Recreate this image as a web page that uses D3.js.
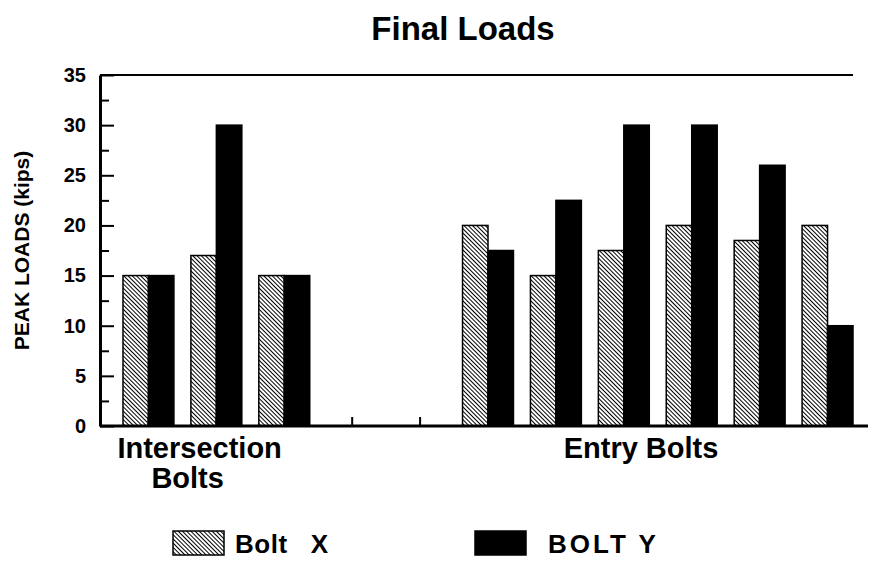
<!DOCTYPE html>
<html>
<head>
<meta charset="utf-8">
<script src="https://cdn.jsdelivr.net/npm/d3@7"></script>
<style>
  body { margin: 0; background: #fff; }
  svg { display: block; font-family: "Liberation Sans", Arial, sans-serif; font-weight: bold; }
</style>
</head>
<body>
<svg width="870" height="562"></svg>
<script>
// slots along the x axis (two empty slots separate the groups)
const slots = ["I1", "I2", "I3", "gapA", "gapB", "E1", "E2", "E3", "E4", "E5", "E6"];
const boltX = [15, 17, 15, null, null, 20, 15, 17.5, 20, 18.5, 20];
const boltY = [15, 30, 15, null, null, 17.5, 22.5, 30, 30, 26, 10];
const groupNames = [["Intersection", "Bolts"], ["Entry Bolts"]];
const groupFirst = ["I1", "E1"];
const groupLast = ["I3", "E6"];
const seriesNames = ["Bolt\u00a0\u00a0\u00a0X", "BOLT Y"];
const yMajor = [0, 5, 10, 15, 20, 25, 30, 35];
const yMinor = [2.5, 7.5, 12.5, 17.5, 22.5, 27.5, 32.5];

const svg = d3.select("svg");
const margin = { top: 75, left: 100 };
const plotBottom = 426;

const data = slots.map((s, i) => ({ slot: s, x: boltX[i], y: boltY[i] }));

const xScale = d3.scaleBand()
  .domain(slots)
  .range([114.5, 861.5])
  .paddingInner(0.25)
  .paddingOuter(0.125);

const inner = d3.scaleBand().domain(["x", "y"]).range([0, xScale.bandwidth()]);

const yScale = d3.scaleLinear().domain([0, 35]).range([plotBottom, margin.top]);

// hatch pattern for Bolt X
const defs = svg.append("defs");
defs.append("pattern")
  .attr("id", "hatch")
  .attr("patternUnits", "userSpaceOnUse")
  .attr("width", 3)
  .attr("height", 3)
  .attr("patternTransform", "rotate(-45)")
  .call((p) => {
    p.append("rect").attr("width", 3).attr("height", 3).attr("fill", "#fff");
    p.append("line").attr("x1", 0.5).attr("y1", 0).attr("x2", 0.5).attr("y2", 3)
      .attr("stroke", "#000").attr("stroke-width", 1);
  });

svg.append("text")
  .attr("x", 463)
  .attr("y", 40)
  .attr("text-anchor", "middle")
  .attr("font-size", 33)
  .text("Final Loads");

// bars
const g = svg.append("g");
const groups = g.selectAll("g.slot")
  .data(data.filter((d) => d.x != null))
  .enter()
  .append("g")
  .attr("transform", (d) => `translate(${xScale(d.slot)},0)`);

groups.append("rect")
  .attr("x", inner("x"))
  .attr("y", (d) => yScale(d.x))
  .attr("width", inner.bandwidth())
  .attr("height", (d) => plotBottom - yScale(d.x))
  .attr("fill", "url(#hatch)")
  .attr("stroke", "#000")
  .attr("stroke-width", 1.5);

groups.append("rect")
  .attr("x", inner("y"))
  .attr("y", (d) => yScale(d.y))
  .attr("width", inner.bandwidth())
  .attr("height", (d) => plotBottom - yScale(d.y))
  .attr("fill", "#000")
  .attr("stroke", "#000")
  .attr("stroke-width", 1.5);

// top frame line
svg.append("line")
  .attr("x1", margin.left).attr("x2", 853)
  .attr("y1", yScale(35)).attr("y2", yScale(35))
  .attr("stroke", "#000").attr("stroke-width", 2);

// y axis
const yAxisG = svg.append("g")
  .attr("transform", `translate(${margin.left},0)`)
  .call(d3.axisLeft(yScale).tickValues(yMajor).tickSize(-14).tickSizeOuter(0).tickPadding(14));
yAxisG.select(".domain").attr("stroke-width", 3);
yAxisG.selectAll(".tick line").attr("stroke-width", 2);
yAxisG.selectAll(".tick text")
  .attr("font-size", 20)
  .attr("font-weight", "bold")
  .attr("font-family", "Liberation Sans, Arial, sans-serif")
  .attr("fill", "#000");

const yMinorG = svg.append("g")
  .attr("transform", `translate(${margin.left},0)`)
  .call(d3.axisLeft(yScale).tickValues(yMinor).tickSize(-9).tickSizeOuter(0).tickFormat(""));
yMinorG.select(".domain").remove();
yMinorG.selectAll(".tick line").attr("stroke-width", 2);

svg.append("text")
  .attr("transform", `translate(29, ${(plotBottom + margin.top) / 2}) rotate(-90)`)
  .attr("text-anchor", "middle")
  .attr("font-size", 21)
  .text("PEAK LOADS (kips)");

// x axis: ticks at each slot centre, pointing up
const xAxisG = svg.append("g")
  .attr("transform", `translate(0,${plotBottom})`)
  .call(d3.axisBottom(xScale).tickSize(-9).tickSizeOuter(0).tickFormat(""));
xAxisG.select(".domain").remove();
xAxisG.selectAll(".tick line").attr("stroke-width", 2);

svg.append("line")
  .attr("x1", margin.left).attr("x2", 868)
  .attr("y1", plotBottom).attr("y2", plotBottom)
  .attr("stroke", "#000").attr("stroke-width", 3);

// group labels
groupNames.forEach((lines, i) => {
  const cx = (xScale(groupFirst[i]) + xScale(groupLast[i]) + inner.bandwidth()) / 2 - 4;
  const t = svg.append("text")
    .attr("x", cx)
    .attr("y", 458)
    .attr("text-anchor", "middle")
    .attr("font-size", 29);
  lines.forEach((line, j) => {
    t.append("tspan")
      .attr("x", j === 0 ? cx : cx - 12)
      .attr("dy", j === 0 ? 0 : 30)
      .text(line);
  });
});

// legend
const legendX = [173, 475];
const legend = svg.selectAll("g.legend")
  .data(seriesNames)
  .enter()
  .append("g")
  .attr("transform", (d, i) => `translate(${legendX[i]},531)`);

legend.append("rect")
  .attr("width", 51)
  .attr("height", 24)
  .attr("fill", (d, i) => (i === 0 ? "url(#hatch)" : "#000"))
  .attr("stroke", "#000")
  .attr("stroke-width", 1.5);

legend.append("text")
  .attr("x", (d, i) => (i === 0 ? 62 : 73))
  .attr("y", 22)
  .attr("font-size", 26)
  .attr("letter-spacing", (d, i) => (i === 0 ? 0.5 : 3))
  .text((d) => d);
</script>
</body>
</html>
